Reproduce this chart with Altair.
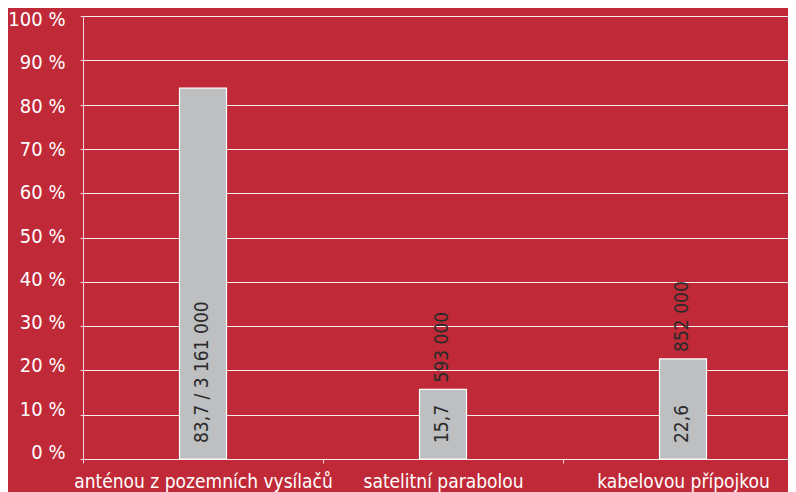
import altair as alt
import pandas as pd

categories = ["anténou z pozemních vysílačů", "satelitní parabolou", "kabelovou přípojkou"]
shares = [83.7, 15.7, 22.6]
inside_labels = ["83,7 / 3 161 000", "15,7", "22,6"]
outside_labels = ["", "593 000", "852 000"]
y_tick_values = list(range(0, 101, 5))

FONT = "Liberation Sans Narrow, DejaVu Sans Condensed, Arial Narrow, sans-serif"
BG = "#C02A38"
BAR = "#BEBFC1"
TEXT_DARK = "#2a2a2a"
LINE = "#F4D6DA"

df = pd.DataFrame({
    "pos": list(range(len(categories))),
    "cat": categories,
    "share": shares,
    "inside": inside_labels,
    "outside": outside_labels,
})

plot_w, plot_h = 705, 443
band_px = 240
x_domain = [-0.5, -0.5 + plot_w / band_px]

cat_array = "[" + ",".join("'" + c + "'" for c in categories) + "]"
x_values = []
for i in range(len(categories)):
    x_values += [i - 0.5, i]

x_scale = alt.Scale(domain=x_domain, nice=False, zero=False, padding=0)
y_scale = alt.Scale(domain=[0, 100], nice=False, padding=0)

# the printed y labels sit slightly off their gridlines (drift from -6.5px at 0 % to +3.5px at 100 %)
label_offset = {
    "condition": [
        {"test": f"datum.value == {v}", "value": round(-6.5 + 0.1 * v, 1)}
        for v in range(0, 101, 10)
    ],
    "value": 0,
}

x_axis = alt.Axis(
    values=x_values,
    labelExpr=f"datum.value % 1 == 0 ? {cat_array}[datum.value] : ''",
    title=None,
    grid=False,
    domain=False,
    ticks=True,
    tickSize=4,
    tickColor={"condition": {"test": "datum.value % 1 == 0", "value": "transparent"}, "value": LINE},
    labelFont=FONT,
    labelFontSize=19,
    labelColor="white",
    labelPadding=9,
    labelAngle=0,
    labelFlush=False,
    labelOverlap=False,
    labelLimit=0,
)

y_axis = alt.Axis(
    values=y_tick_values,
    labelExpr="datum.value % 10 == 0 ? datum.value + ' %' : ''",
    labelOffset=label_offset,
    title=None,
    grid=True,
    gridColor="white",
    gridOpacity=0.9,
    gridWidth=1,
    domain=True,
    domainColor=LINE,
    ticks=True,
    tickSize=3,
    tickColor=LINE,
    labelFont=FONT,
    labelFontSize=20,
    labelColor="white",
    labelPadding=15,
    labelOverlap=False,
    labelFlush=False,
    labelLimit=0,
)

bars = alt.Chart(df).mark_bar(size=47, color=BAR, stroke="white", strokeWidth=1.2).encode(
    x=alt.X("pos:Q", scale=x_scale, axis=x_axis),
    y=alt.Y("share:Q", scale=y_scale, axis=y_axis),
)

inside = alt.Chart(df).mark_text(
    angle=270, align="left", baseline="middle", dx=16, dy=-1,
    font=FONT, fontSize=19, color=TEXT_DARK,
).encode(
    x=alt.X("pos:Q"),
    y=alt.datum(0),
    text="inside:N",
)

outside = alt.Chart(df).mark_text(
    angle=270, align="left", baseline="middle", dx=7, dy=-1,
    font=FONT, fontSize=19, color=TEXT_DARK,
).encode(
    x=alt.X("pos:Q"),
    y=alt.Y("share:Q"),
    text="outside:N",
)

chart = alt.layer(bars, inside, outside).properties(
    width=plot_w,
    height=plot_h,
    autosize=alt.AutoSizeParams(type="none"),
    padding={"left": 75, "top": 8, "right": 0, "bottom": 33},
    background=BG,
).configure_view(stroke=None)

chart.save("out.html", embed_options={"renderer": "svg", "actions": False})
